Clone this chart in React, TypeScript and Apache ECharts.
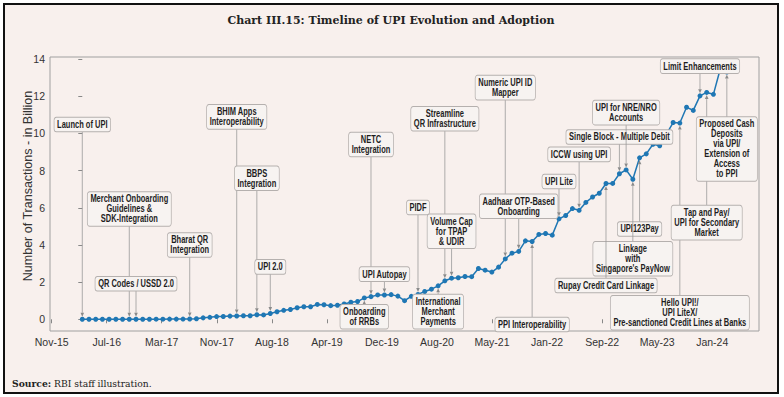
import React, { useEffect, useRef } from "react";
import * as echarts from "echarts";

// Monthly UPI transaction volume (billion), Apr-16 .. Apr-24
const volumes: number[] = [
  // 2016 Apr-Dec
  0.0, 0.0, 0.0, 0.0, 0.0, 0.0, 0.0, 0.0, 0.002,
  // 2017
  0.004, 0.004, 0.006, 0.007, 0.009, 0.010, 0.011, 0.017, 0.031, 0.077, 0.105, 0.146,
  // 2018
  0.152, 0.171, 0.178, 0.190, 0.189, 0.246, 0.236, 0.312, 0.406, 0.482, 0.525, 0.620,
  // 2019
  0.673, 0.674, 0.800, 0.782, 0.734, 0.754, 0.822, 0.918, 0.955, 1.148, 1.219, 1.309,
  // 2020
  1.305, 1.326, 1.247, 1.000, 1.235, 1.337, 1.497, 1.619, 1.800, 2.071, 2.210, 2.234,
  // 2021
  2.303, 2.293, 2.731, 2.642, 2.539, 2.805, 3.248, 3.556, 3.654, 4.219, 4.186, 4.566,
  // 2022
  4.617, 4.527, 5.405, 5.584, 5.955, 5.863, 6.288, 6.580, 6.781, 7.305, 7.309, 7.829,
  // 2023
  8.036, 7.535, 8.685, 8.899, 9.415, 9.336, 9.964, 10.586, 10.556, 11.408, 11.238, 12.020,
  // 2024
  12.203, 12.102, 13.440, 13.303,
];

const monthNames = ["Jan", "Feb", "Mar", "Apr", "May", "Jun", "Jul", "Aug", "Sep", "Oct", "Nov", "Dec"];
const months: string[] = volumes.map((_, i) => {
  const m = (3 + i) % 12;
  const y = 16 + Math.floor((3 + i) / 12);
  return `${monthNames[m]}-${y}`;
});

const xTickLabels: string[] = [
  "Nov-15", "Jul-16", "Mar-17", "Nov-17", "Aug-18", "Apr-19", "Dec-19",
  "Aug-20", "May-21", "Jan-22", "Sep-22", "May-23", "Jan-24",
];
const yTickValues: number[] = [0, 2, 4, 6, 8, 10, 12, 14];

// Events: month of the event and its label
const eventMonths: string[] = [
  "Apr-16", "Nov-16", "Dec-16", "Aug-17", "Mar-18", "Jun-18", "Aug-18",
  "Nov-19", "Jan-20", "Oct-19", "Jun-20", "Oct-20", "Nov-20", "Sep-20",
  "Jul-21", "Sep-21", "Nov-21", "Mar-22", "Jun-22", "Dec-22", "Jan-23",
  "Mar-23", "Feb-23", "Oct-22", "Sep-23", "Jan-24", "Apr-24", "Dec-23",
];
const eventTexts: string[] = [
  "Launch of UPI",
  "Merchant Onboarding\nGuidelines &\nSDK-Integration",
  "QR Codes / USSD 2.0",
  "Bharat QR\nIntegration",
  "BHIM Apps\nInteroperability",
  "BBPS\nIntegration",
  "UPI 2.0",
  "NETC\nIntegration",
  "UPI Autopay",
  "Onboarding\nof RRBs",
  "PIDF",
  "Streamline\nQR Infrastructure",
  "Volume Cap\nfor TPAP\n& UDIR",
  "International\nMerchant\nPayments",
  "Numeric UPI ID\nMapper",
  "Aadhaar OTP-Based\nOnboarding",
  "PPI Interoperability",
  "UPI Lite",
  "ICCW using UPI",
  "Single Block - Multiple Debit",
  "UPI for NRE/NRO\nAccounts",
  "UPI123Pay",
  "Linkage\nwith\nSingapore's PayNow",
  "Rupay Credit Card Linkage",
  "Hello UPI!/\nUPI LiteX/\nPre-sanctioned Credit Lines at Banks",
  "Tap and Pay/\nUPI for Secondary\nMarket",
  "Proposed Cash\nDeposits\nvia UPI/\nExtension of\nAccess\nto PPI",
  "Limit Enhancements",
];

// Layout: vertical level (in axis units) of each label box centre
const labelLevels: number[] = [
  10.48, 5.93, 1.91, 4.0, 10.89, 7.59, 2.82,
  9.4, 2.43, 0.14, 6.01, 10.79, 4.74, 0.41,
  12.46, 6.08, -0.28, 7.41, 8.87, 9.81, 11.12,
  4.86, 3.26, 1.82, 0.35, 5.2, 9.16, 13.62,
];

const SANS = "'Liberation Sans', Arial, sans-serif";
const BG = "#f8f0ed";

export default function App() {
  const ref = useRef<HTMLDivElement>(null);
  useEffect(() => {
    if (!ref.current) return;
    const chart = echarts.init(ref.current, undefined, { renderer: "svg" });

    const firstTick = -4.565;
    const tickStep = 8.199;
    const xTickValues = xTickLabels.map((_, k) => firstTick + k * tickStep);

    const lineData = volumes.map((v, i) => [i, v]);
    const annData = eventMonths.map((m, k) => {
      const i = months.indexOf(m);
      return [i, volumes[i], labelLevels[k]];
    });

    chart.setOption({
      animation: false,
      backgroundColor: "#ffffff",
      grid: {
        left: 50,
        right: 25,
        top: 57,
        bottom: 66,
        show: true,
        borderColor: "#a0a0a0",
        borderWidth: 1,
        backgroundColor: "transparent",
      },
      xAxis: {
        type: "value",
        min: -4.81,
        max: 100.79,
        splitLine: { show: false },
        axisLine: { show: false },
        axisTick: {
          show: true,
          customValues: xTickValues,
          length: 4,
          lineStyle: { color: "#888" },
        },
        axisLabel: {
          customValues: xTickValues,
          margin: 5,
          color: "#333",
          fontFamily: SANS,
          fontSize: 10.5,
          formatter: (v: number) => {
            let best = 0;
            xTickValues.forEach((t, k) => {
              if (Math.abs(t - v) < Math.abs(xTickValues[best] - v)) best = k;
            });
            return xTickLabels[best];
          },
        },
      },
      yAxis: {
        type: "value",
        min: -0.63,
        max: 14.11,
        splitLine: { show: false },
        axisLine: { show: false },
        axisTick: {
          show: true,
          customValues: yTickValues,
          length: 4,
          lineStyle: { color: "#888" },
        },
        axisLabel: {
          customValues: yTickValues,
          margin: 5,
          color: "#333",
          fontFamily: SANS,
          fontSize: 10.5,
        },
      },
      graphic: [
        {
          type: "rect",
          z: -10,
          shape: { x: 4, y: 4, width: 774, height: 389 },
          style: { fill: BG, stroke: "#111", lineWidth: 2 },
        },
        {
          type: "text",
          x: 391,
          y: 20,
          style: {
            text: "Chart III.15: Timeline of UPI Evolution and Adoption",
            align: "center",
            verticalAlign: "middle",
            font: "bold 11px 'DejaVu Serif', serif",
            fill: "#222",
          },
        },
        {
          type: "text",
          x: 28,
          y: 186,
          rotation: Math.PI / 2,
          style: {
            text: "Number of Transactions - in Billion",
            align: "center",
            verticalAlign: "middle",
            font: "12.5px 'Liberation Sans', Arial, sans-serif",
            fill: "#333",
          },
        },
        {
          type: "text",
          x: 12,
          y: 383,
          style: {
            text: "{b|Source:} RBI staff illustration.",
            align: "left",
            verticalAlign: "middle",
            font: "9.2px 'DejaVu Serif', serif",
            fill: "#222",
            rich: {
              b: { fontWeight: "bold", fontFamily: "'DejaVu Serif', serif", fontSize: 9.2, fill: "#222" },
            },
          },
        },
      ],
      series: [
        {
          type: "line",
          data: lineData,
          z: 2,
          symbol: "circle",
          symbolSize: 5,
          lineStyle: { color: "#1f77b4", width: 1.5 },
          itemStyle: { color: "#1f77b4" },
          clip: false,
        },
        {
          type: "custom",
          z: 5,
          clip: false,
          data: annData,
          encode: { x: 0, y: 1 },
          renderItem: (params: any, api: any) => {
            const x = api.value(0);
            const ty = api.value(1);
            const ly = api.value(2);
            const p = api.coord([x, ty]);
            const b = api.coord([x, ly]);
            const dir = b[1] < p[1] ? 1 : -1;
            const tipY = p[1] - dir * 2.5;
            const ah = 4;
            const aw = 1.8;
            return {
              type: "group",
              children: [
                {
                  type: "line",
                  shape: { x1: b[0], y1: b[1], x2: p[0], y2: tipY - dir * ah },
                  style: { stroke: "#9a9a9a", lineWidth: 0.8 },
                },
                {
                  type: "polygon",
                  shape: {
                    points: [
                      [p[0], tipY],
                      [p[0] - aw, tipY - dir * ah],
                      [p[0] + aw, tipY - dir * ah],
                    ],
                  },
                  style: { fill: "#8a8a8a" },
                },
                {
                  type: "text",
                  x: b[0],
                  y: b[1],
                  scaleX: 0.75,
                  style: {
                    text: eventTexts[params.dataIndex],
                    align: "center",
                    verticalAlign: "middle",
                    fontFamily: SANS,
                    fontWeight: "bold",
                    fontSize: 10,
                    lineHeight: 10,
                    fill: "#1e1e1e",
                    backgroundColor: "#f7f3f1",
                    borderColor: "#b5b0ae",
                    borderWidth: 1,
                    borderRadius: 2.5,
                    padding: [1.8, 3.5, 1.8, 3.5],
                  },
                },
              ],
            };
          },
        },
      ],
    });
    return () => chart.dispose();
  }, []);

  return (
    <div
      ref={ref}
      style={{ position: "fixed", left: 0, top: 0, width: 784, height: 397 }}
    />
  );
}
